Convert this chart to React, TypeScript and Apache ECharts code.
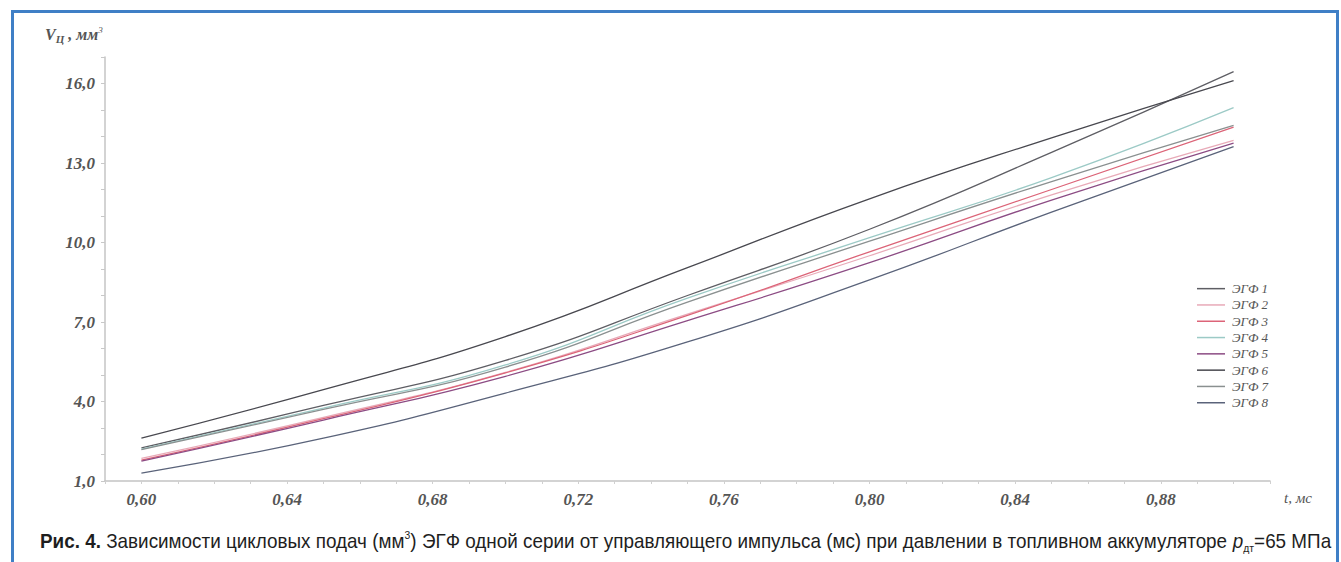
import React, { useEffect, useRef } from "react";
import * as echarts from "echarts";

const tValues = [0.6, 0.65, 0.7, 0.75, 0.8, 0.85, 0.9];
const seriesNames = ["ЭГФ 1", "ЭГФ 2", "ЭГФ 3", "ЭГФ 4", "ЭГФ 5", "ЭГФ 6", "ЭГФ 7", "ЭГФ 8"];
const egf1 = [2.25, 3.85, 5.55, 8.0, 10.5, 13.4, 16.45];
const egf2 = [1.85, 3.4, 5.1, 7.3, 9.5, 11.8, 13.85];
const egf3 = [1.79, 3.35, 5.08, 7.25, 9.65, 12.0, 14.35];
const egf4 = [2.2, 3.75, 5.38, 7.9, 10.18, 12.45, 15.09];
const egf5 = [1.75, 3.3, 4.95, 7.05, 9.24, 11.6, 13.75];
const egf6 = [2.62, 4.45, 6.45, 9.05, 11.65, 13.95, 16.11];
const egf7 = [2.18, 3.7, 5.3, 7.75, 10.05, 12.3, 14.42];
const egf8 = [1.3, 2.62, 4.32, 6.25, 8.59, 11.15, 13.62];
const allValues = [egf1, egf2, egf3, egf4, egf5, egf6, egf7, egf8];
const colors = ["#5e5e64", "#e8aab8", "#dc6478", "#9ccac6", "#8c4c84", "#48484f", "#8a9090", "#5a637a"];

const serif = "'Liberation Serif', 'DejaVu Serif', serif";
const sans = "'Liberation Sans', Arial, sans-serif";

export default function App() {
  const ref = useRef<HTMLDivElement>(null);
  useEffect(() => {
    if (!ref.current) return;
    const chart = echarts.init(ref.current, undefined, { renderer: "svg" });
    const series = allValues.map((vals, i) => ({
      name: seriesNames[i],
      type: "line",
      smooth: true,
      showSymbol: false,
      symbol: "none",
      data: vals.map((v, j) => [tValues[j], v]),
      lineStyle: { color: colors[i], width: 1.3 },
      itemStyle: { color: colors[i] },
    }));
    chart.setOption({
      animation: false,
      backgroundColor: "transparent",
      grid: { left: 105, right: 71, top: 57, bottom: 81, containLabel: false },
      xAxis: {
        type: "value",
        min: 0.59,
        max: 0.91,
        interval: 0.01,
        name: "t, мс",
        nameLocation: "end",
        nameGap: 14,
        nameTextStyle: {
          fontFamily: serif,
          fontStyle: "italic",
          fontSize: 15,
          color: "#555",
          verticalAlign: "top",
          align: "left",
          padding: [9, 0, 0, 0],
        },
        axisLine: { lineStyle: { color: "#c4c4c4", width: 1.5 } },
        axisTick: { show: true, length: 3, lineStyle: { color: "#d0d0d0" } },
        splitLine: { show: false },
        axisLabel: {
          fontFamily: serif,
          fontStyle: "italic",
          fontWeight: "bold",
          fontSize: 17,
          color: "#555",
          margin: 10,
          formatter: (v: number) => {
            const k = Math.round((v - 0.6) / 0.01);
            if (k < 0 || k % 4 !== 0) return "";
            return (0.6 + k * 0.01).toFixed(2).replace(".", ",");
          },
        },
      },
      yAxis: {
        type: "value",
        min: 1,
        max: 17,
        interval: 1,
        axisLine: { show: true, lineStyle: { color: "#c4c4c4", width: 1.5 } },
        axisTick: { show: true, length: 4, lineStyle: { color: "#c8c8c8" } },
        splitLine: { show: false },
        axisLabel: {
          fontFamily: serif,
          fontStyle: "italic",
          fontWeight: "bold",
          fontSize: 17,
          color: "#555",
          margin: 10,
          formatter: (v: number) => {
            const k = Math.round(v - 1);
            if (k % 3 !== 0 || v > 16.5) return "";
            return v.toFixed(1).replace(".", ",");
          },
        },
      },
      legend: {
        orient: "vertical",
        left: 1192,
        top: 277,
        icon: "rect",
        itemWidth: 28,
        itemHeight: 1.5,
        itemGap: 3,
        data: seriesNames,
        textStyle: {
          fontFamily: serif,
          fontStyle: "italic",
          fontSize: 13,
          lineHeight: 13.3,
          color: "#555",
          padding: [0, 0, 0, 2],
        },
      },
      graphic: [
        {
          type: "text",
          left: 45,
          top: 25,
          style: {
            text: "{i|V}{sub|Ц}{i| , мм}{sup|3}",
            rich: {
              i: { fontFamily: serif, fontStyle: "italic", fontWeight: "bold", fontSize: 16, fill: "#555", lineHeight: 19 },
              sub: { fontFamily: serif, fontStyle: "italic", fontWeight: "bold", fontSize: 11, fill: "#555", verticalAlign: "bottom" },
              sup: { fontFamily: serif, fontStyle: "italic", fontSize: 9, fill: "#555", verticalAlign: "top" },
            },
          },
        },
        {
          type: "text",
          x: 40,
          y: 541,
          scaleX: 0.944,
          style: {
            text:
              "{b|Рис. 4.} Зависимости цикловых подач (мм{sup|3}) ЭГФ одной серии от управляющего импульса (мс) при давлении в топливном аккумуляторе {i|p}{sub|дт}=65 МПа",
            fontFamily: sans,
            fontSize: 20,
            fill: "#1e1e1e",
            verticalAlign: "middle",
            lineHeight: 24,
            rich: {
              b: { fontFamily: sans, fontSize: 20, fontWeight: "bold", fill: "#1e1e1e" },
              sup: { fontFamily: sans, fontSize: 11, fill: "#1e1e1e", verticalAlign: "top" },
              i: { fontFamily: sans, fontSize: 20, fontStyle: "italic", fill: "#1e1e1e" },
              sub: { fontFamily: sans, fontSize: 11, fill: "#1e1e1e", verticalAlign: "bottom" },
            },
          },
        },
      ],
      series,
    });
    return () => chart.dispose();
  }, []);
  return (
    <div style={{ position: "absolute", left: 0, top: 0, width: 1341, height: 562, background: "#fff", overflow: "hidden" }}>
      <div ref={ref} style={{ position: "absolute", left: 0, top: 0, width: 1341, height: 562 }} />
      <div
        style={{
          position: "absolute",
          left: 11,
          top: 10,
          width: 1322,
          height: 560,
          borderTop: "3px solid #3f7fc6",
          borderLeft: "3px solid #3f7fc6",
          borderRight: "3px solid #3f7fc6",
          pointerEvents: "none",
        }}
      />
    </div>
  );
}
